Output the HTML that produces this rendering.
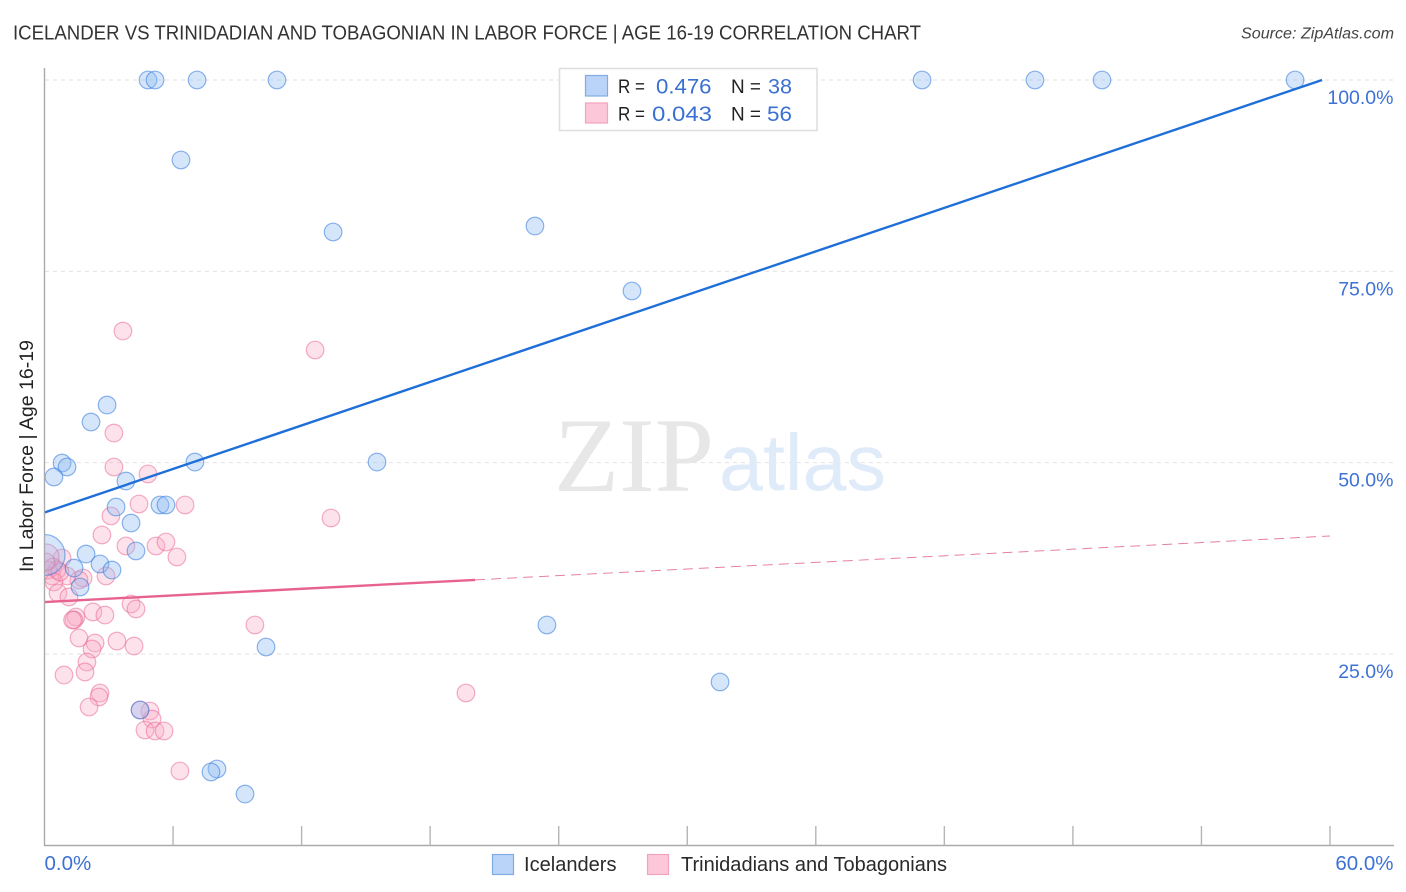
<!DOCTYPE html>
<html lang="en">
<head>
<meta charset="utf-8">
<title>Icelander vs Trinidadian and Tobagonian in Labor Force | Age 16-19 Correlation Chart</title>
<style>
html,body{margin:0;padding:0;background:#fff;width:1406px;height:892px;overflow:hidden}
svg{display:block;font-family:"Liberation Sans",sans-serif}
</style>
</head>
<body>
<svg id="chart" width="1406" height="892" viewBox="0 0 1406 892" xmlns="http://www.w3.org/2000/svg">
  <defs>
    <clipPath id="plot-clip"><rect x="45" y="60" width="1350" height="785"/></clipPath>
  </defs>
  <rect x="0" y="0" width="1406" height="892" fill="#ffffff"/>
  <text x="13" y="39.5" font-size="20" fill="#333333" textLength="908" lengthAdjust="spacingAndGlyphs">ICELANDER VS TRINIDADIAN AND TOBAGONIAN IN LABOR FORCE | AGE 16-19 CORRELATION CHART</text>
  <text x="1241" y="38.5" font-size="15.5" font-style="italic" fill="#444" textLength="153" lengthAdjust="spacingAndGlyphs">Source: ZipAtlas.com</text>
  <g id="grid"></g>
  <g>
    <text x="554" y="491" font-family="'Liberation Serif',serif" font-size="106" fill="#e7e7e7" textLength="160" lengthAdjust="spacingAndGlyphs">ZIP</text>
    <text x="719" y="490" font-size="80" fill="#e0ebfa" textLength="167" lengthAdjust="spacingAndGlyphs">atlas</text>
  </g>
  <g id="points-pink" clip-path="url(#plot-clip)"></g>
  <g id="points-blue" clip-path="url(#plot-clip)"></g>
  <g id="trends"></g>
  <g id="axes"></g>
  <text transform="translate(33,456) rotate(-90)" font-size="19" fill="#222" text-anchor="middle" textLength="232" lengthAdjust="spacingAndGlyphs">In Labor Force | Age 16-19</text>
  <g>
    <rect x="559.5" y="68.5" width="257.5" height="62" fill="#ffffff" stroke="#dedede" stroke-width="1.5"/>
    <rect x="585.5" y="75.5" width="22" height="20.5" fill="#b9d4f8" stroke="#80ace2" stroke-width="1.2"/>
    <rect x="585.5" y="103" width="22" height="20" fill="#fcc7d9" stroke="#f2a4bd" stroke-width="1.2"/>
    <text x="618" y="93" font-size="19" fill="#222" textLength="27" lengthAdjust="spacingAndGlyphs">R =</text>
    <text x="656" y="93.5" font-size="21.5" fill="#3a70d2" textLength="55.5" lengthAdjust="spacingAndGlyphs">0.476</text>
    <text x="731" y="93" font-size="19" fill="#222" textLength="30" lengthAdjust="spacingAndGlyphs">N =</text>
    <text x="768" y="93.5" font-size="21.5" fill="#3a70d2" textLength="24" lengthAdjust="spacingAndGlyphs">38</text>
    <text x="618" y="120.5" font-size="19" fill="#222" textLength="27" lengthAdjust="spacingAndGlyphs">R =</text>
    <text x="652" y="121" font-size="21.5" fill="#3a70d2" textLength="60" lengthAdjust="spacingAndGlyphs">0.043</text>
    <text x="731" y="120.5" font-size="19" fill="#222" textLength="30" lengthAdjust="spacingAndGlyphs">N =</text>
    <text x="767" y="121" font-size="21.5" fill="#3a70d2" textLength="25" lengthAdjust="spacingAndGlyphs">56</text>
  </g>
  <g>
    <rect x="492.5" y="854.5" width="21" height="20" fill="#b9d4f8" stroke="#80ace2" stroke-width="1.2"/>
    <text x="524" y="871" font-size="20" fill="#2a2a2a" textLength="92.5" lengthAdjust="spacingAndGlyphs">Icelanders</text>
    <rect x="647.5" y="854.5" width="21" height="20" fill="#fcc7d9" stroke="#f2a4bd" stroke-width="1.2"/>
    <text x="681" y="871" font-size="20" fill="#2a2a2a" textLength="266" lengthAdjust="spacingAndGlyphs">Trinidadians and Tobagonians</text>
  </g>
</svg>
<script>
const xTickValues = [0, 6, 12, 18, 24, 30, 36, 42, 48, 54, 60];
const yGridValues = [100, 75, 50, 25];
const yTickLabels = ["100.0%", "75.0%", "50.0%", "25.0%"];
const xEndValues = [0, 60];
const xEndLabels = ["0.0%", "60.0%"];

const icelanderX = [4.83,5.16,7.12,10.85,40.96,46.23,49.36,58.37,6.37,13.47,22.89,27.42,2.92,2.17,0.82,1.05,0.44,7.02,15.52,3.80,3.34,5.39,5.67,4.04,4.27,1.94,2.59,1.38,3.15,1.66,23.45,10.34,31.53,4.46,8.05,7.77,9.36,0];
const icelanderY = [100,100,100,100,100,100,100,100,89.55,80.14,80.92,72.43,57.53,55.31,49.95,49.43,48.13,50.08,50.08,47.60,44.20,44.47,44.47,42.11,38.46,38.06,36.76,36.23,35.97,33.75,28.79,25.91,21.34,17.68,9.97,9.58,6.70,37.93];
const icelanderLargeIndex = 37;

const trinidadianX = [3.66,12.63,3.24,3.24,4.83,4.41,6.56,3.10,13.37,2.68,3.80,5.20,5.67,6.18,0.82,0.07,1.80,1.61,2.87,4.04,4.27,2.26,2.82,1.47,1.38,1.31,9.82,1.61,2.36,2.22,3.38,4.18,1.98,1.89,0.91,2.59,2.54,2.08,4.92,5.02,4.69,5.16,5.58,6.32,19.67,0.40,0.35,1.05,0.58,0.16,0.44,0.63,1.14,0.72,4.46,0.07];
const trinidadianY = [67.20,64.72,53.87,49.43,48.52,44.60,44.47,43.03,42.77,40.55,39.11,39.11,39.63,37.67,37.54,37.67,34.93,34.67,35.19,31.53,30.88,30.49,30.09,29.83,29.44,29.44,28.79,27.09,26.43,25.65,26.69,26.04,23.95,22.65,22.25,19.90,19.38,18.07,17.55,16.50,15.07,14.94,14.94,9.71,19.90,36.37,35.19,35.19,35.97,35.97,34.41,32.97,32.45,35.71,17.68,37.02];
const trinidadianLargeIndex = 15;

const icelanderTrendX = [0, 59.63];
const icelanderTrendY = [43.49, 100];
const trinidadianSolidX = [0, 20.1];
const trinidadianSolidY = [31.79, 34.68];
const trinidadianDashX = [20.1, 60];
const trinidadianDashY = [34.68, 40.42];

const NS = "http://www.w3.org/2000/svg";
const xScale = v => 44.5 + v * (1285.5 / 60);
const yScale = v => 845.3 - v * 7.653;

function make(parent, tag, attrs, text) {
  const el = document.createElementNS(NS, tag);
  for (const k in attrs) el.setAttribute(k, attrs[k]);
  if (text !== undefined) el.textContent = text;
  parent.appendChild(el);
  return el;
}

const gridG = document.getElementById("grid");
yGridValues.forEach(v => {
  const line = make(gridG, "line", {x1: 45, x2: 1393, y1: yScale(v), y2: yScale(v), stroke: "#e2e2e2", "stroke-width": 1, "stroke-dasharray": "4 4"});
  
  
});

function drawPoints(groupId, xs, ys, largeIndex, largeR, fill, stroke, name) {
  const g = document.getElementById(groupId);
  xs.forEach((x, i) => {
    const c = make(g, "circle", {
      cx: xScale(x), cy: yScale(ys[i]), r: i === largeIndex ? largeR : 8.8,
      fill: fill, stroke: stroke, "stroke-width": 1.2
    });
    
    
  });
}
drawPoints("points-pink", trinidadianX, trinidadianY, trinidadianLargeIndex, 13, "rgba(248,170,195,0.34)", "rgba(232,96,140,0.5)", "trinidadian-point");
drawPoints("points-blue", icelanderX, icelanderY, icelanderLargeIndex, 20.5, "rgba(140,185,240,0.36)", "rgba(50,120,220,0.55)", "icelander-point");

const trendG = document.getElementById("trends");
const blueTrend = make(trendG, "line", {x1: xScale(icelanderTrendX[0]), y1: yScale(icelanderTrendY[0]), x2: xScale(icelanderTrendX[1]), y2: yScale(icelanderTrendY[1]), stroke: "#1f6fd9", "stroke-width": 2.4});


const pinkTrend = make(trendG, "line", {x1: xScale(trinidadianSolidX[0]), y1: yScale(trinidadianSolidY[0]), x2: xScale(trinidadianSolidX[1]), y2: yScale(trinidadianSolidY[1]), stroke: "#e8628f", "stroke-width": 2.4});


const pinkDash = make(trendG, "line", {x1: xScale(trinidadianDashX[0]), y1: yScale(trinidadianDashY[0]), x2: xScale(trinidadianDashX[1]), y2: yScale(trinidadianDashY[1]), stroke: "#e8809f", "stroke-width": 1, "stroke-dasharray": "10 6"});



const axesG = document.getElementById("axes");
const yAxis = make(axesG, "line", {x1: 44.5, x2: 44.5, y1: 68, y2: 846, stroke: "#aaaaaa", "stroke-width": 1.4});


const xAxis = make(axesG, "line", {x1: 44, x2: 1394, y1: 845.5, y2: 845.5, stroke: "#aaaaaa", "stroke-width": 1.4});


xTickValues.slice(1).forEach(v => {
  const t = make(axesG, "line", {x1: xScale(v), x2: xScale(v), y1: 826, y2: 845.5, stroke: "#b5b5b5", "stroke-width": 1.4});
  
  
});
yTickLabels.forEach((label, i) => {
  const t = make(axesG, "text", {x: 1393.5, y: yScale(yGridValues[i]) + 24, "font-size": 19.5, fill: "#3d72d4", "text-anchor": "end"}, label);
  
  
});
xEndLabels.forEach((label, i) => {
  const t = make(axesG, "text", {x: i === 0 ? xScale(xEndValues[i]) : 1393.5, y: 870, "font-size": 20.5, fill: "#3d72d4", "text-anchor": i === 0 ? "start" : "end"}, label);
  
  
});
</script>
</body>
</html>
